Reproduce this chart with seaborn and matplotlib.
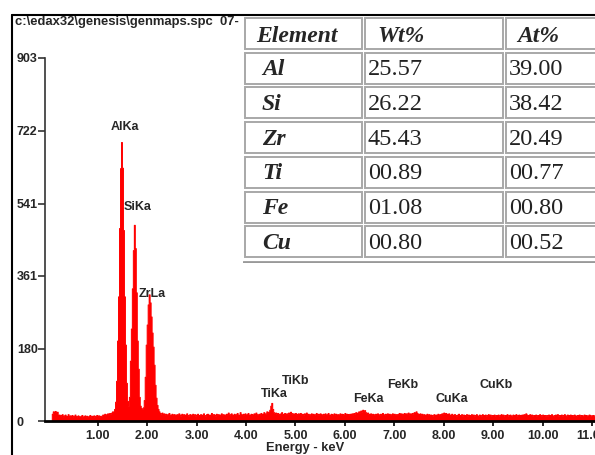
# EDS spectrum with quantification table

import numpy as np
import pandas as pd
import matplotlib.pyplot as plt
import seaborn as sns
from matplotlib.patches import Rectangle
from matplotlib.lines import Line2D

sns.set_style("white")
plt.rcParams["font.family"] = ["Liberation Sans", "DejaVu Sans"]

# Spectrum: counts per 0.02 keV channel, first channel at 0.08 keV
start_kev = 0.08
channel_kev = 0.02
count_rows = [
    [18, 24, 22, 25, 19, 23, 14, 16, 12, 15, 17, 11, 14, 16, 13, 12, 17, 10, 14, 12, 15, 11, 13, 16, 12],
    [11, 14, 12, 9, 13, 15, 10, 12, 14, 11, 13, 10, 12, 15, 11, 13, 12, 14, 10, 13, 15, 12, 14, 11, 13],
    [13, 16, 14, 18, 15, 17, 19, 16, 20, 18, 21, 24, 22, 30, 48, 100, 200, 310, 480, 629, 694, 630, 475, 310, 190],
    [95, 50, 38, 60, 150, 230, 330, 425, 488, 430, 320, 200, 130, 60, 38, 32, 30, 34, 52, 110, 190, 240, 290, 315, 295],
    [260, 220, 185, 140, 90, 58, 40, 30, 24, 20, 18, 21, 17, 19, 16, 18, 15, 17, 20, 16, 14, 18, 15, 17, 16],
    [14, 17, 15, 19, 16, 13, 18, 15, 17, 14, 16, 19, 15, 13, 17, 16, 14, 18, 15, 17, 13, 16, 18, 14, 15],
    [17, 14, 16, 19, 15, 13, 17, 18, 14, 16, 15, 20, 14, 17, 16, 13, 18, 15, 17, 14, 16, 19, 15, 17, 14],
    [16, 18, 15, 21, 14, 17, 19, 16, 15, 18, 14, 17, 20, 16, 15, 22, 17, 14, 18, 16, 19, 15, 17, 20, 16],
    [15, 18, 17, 14, 19, 16, 21, 17, 15, 18, 16, 20, 18, 17, 22, 19, 18, 24, 20, 23, 28, 38, 45, 30, 22],
    [19, 21, 17, 20, 18, 16, 19, 22, 18, 17, 20, 16, 19, 18, 21, 17, 23, 20, 18, 19, 17, 20, 16, 18, 19],
    [17, 20, 16, 18, 15, 19, 17, 21, 16, 18, 15, 17, 19, 16, 18, 14, 17, 20, 15, 18, 16, 19, 17, 15, 18],
    [16, 19, 15, 17, 20, 16, 14, 18, 17, 15, 19, 16, 18, 14, 17, 15, 19, 16, 18, 17, 15, 20, 16, 18, 17],
    [16, 18, 17, 19, 16, 20, 18, 22, 19, 21, 24, 20, 26, 23, 28, 25, 27, 22, 19, 21, 18, 17, 19, 16, 18],
    [17, 15, 18, 16, 19, 17, 15, 18, 16, 20, 17, 15, 18, 16, 19, 17, 18, 15, 17, 19, 16, 18, 15, 17, 16],
    [18, 20, 17, 19, 16, 18, 20, 17, 19, 18, 21, 16, 19, 17, 20, 18, 22, 19, 24, 20, 18, 17, 19, 16, 18],
    [15, 17, 14, 16, 18, 15, 17, 14, 16, 15, 13, 17, 15, 16, 14, 18, 15, 17, 16, 19, 18, 21, 17, 20, 18],
    [17, 19, 16, 15, 18, 14, 16, 17, 15, 13, 16, 18, 14, 15, 17, 13, 16, 14, 15, 17, 13, 16, 14, 15, 17],
    [14, 16, 13, 15, 17, 14, 12, 16, 15, 13, 17, 14, 15, 16, 13, 15, 17, 14, 16, 13, 15, 14, 16, 13, 15],
    [14, 16, 13, 15, 17, 14, 16, 13, 15, 14, 17, 13, 15, 16, 14, 13, 16, 15, 14, 17, 13, 15, 16, 14, 15],
    [16, 14, 17, 15, 19, 16, 14, 15, 17, 14, 16, 13, 15, 14, 16, 13, 15, 14, 17, 15, 13, 16, 14, 15, 13],
    [15, 13, 16, 14, 15, 17, 14, 13, 15, 16, 14, 17, 13, 15, 14, 16, 13, 15, 17, 14, 13, 16, 15, 14, 16],
    [14, 15, 13, 16, 14, 12, 15, 14, 16, 13, 15, 14, 13, 16, 14, 15, 13, 14, 16, 15, 13, 14, 15, 13, 14],
]

# Peak labels (keV, counts)
peak_names = ["AlKa", "SiKa", "ZrLa", "TiKa", "TiKb", "FeKa", "FeKb", "CuKa", "CuKb"]
peak_x = [1.55, 1.80, 2.10, 4.58, 5.01, 6.48, 7.16, 8.17, 9.05]
peak_y = [731, 532, 316, 67, 100, 55, 90, 55, 90]

# Axis ticks
y_ticks = [0, 180, 361, 541, 722, 903]
x_ticks = [1, 2, 3, 4, 5, 6, 7, 8, 9, 10, 11]

# Quantification table
elements = ["Al", "Si", "Zr", "Ti", "Fe", "Cu"]
wt_pct = ["25.57", "26.22", "45.43", "00.89", "01.08", "00.80"]
at_pct = ["39.00", "38.42", "20.49", "00.77", "00.80", "00.52"]

counts = np.concatenate(count_rows)
energy = start_kev + channel_kev * np.arange(len(counts))
edges = np.append(energy - channel_kev / 2, energy[-1] + channel_kev / 2)
df = pd.DataFrame({"energy": energy, "counts": counts})

W, H = 595, 455
fig = plt.figure(figsize=(W / 100, H / 100), dpi=100)
fig.patch.set_facecolor("white")

ax = fig.add_axes([45 / W, 34 / H, 550 / W, 363 / H])
sns.histplot(data=df, x="energy", weights="counts", bins=edges.tolist(),
             element="step", fill=True, color="#ff0000", alpha=1, linewidth=0.7, ax=ax)

ax.set_xlim(-0.067, 11.06)
ax.set_ylim(0, 903)
ax.set_ylabel("")
ax.set_xlabel("")
for s in ["top", "right"]:
    ax.spines[s].set_visible(False)
ax.spines["left"].set_color("#333333")
ax.spines["left"].set_linewidth(1.2)
ax.spines["bottom"].set_color("black")
ax.spines["bottom"].set_linewidth(2)

ax.set_yticks(y_ticks)
ax.set_yticklabels([str(v) for v in y_ticks], fontsize=9, fontweight="bold", ha="left")
ax.tick_params(axis="y", direction="out", length=5, width=1.2, color="#333333", pad=15.2, left=True)
ax.set_xticks(x_ticks)
ax.set_xticklabels(["%.2f" % v for v in x_ticks], fontsize=9, fontweight="bold")
ax.tick_params(axis="x", direction="out", length=3.6, width=1.2, color="black", pad=3, bottom=True)

for name, x, y in zip(peak_names, peak_x, peak_y):
    ax.text(x, y, name, fontsize=9, fontweight="bold", ha="center", va="center")

fig.text(305 / W, 1 - 448 / H, "Energy - keV", fontsize=9.3, fontweight="bold", ha="center", va="center")
fig.text(15 / W, 1 - 22 / H, "c:\\edax32\\genesis\\genmaps.spc  07-", fontsize=9.4,
         fontweight="bold", ha="left", va="center")

# table overlay, drawn in pixel coordinates
tab = fig.add_axes([243 / W, 1 - 263 / H, (W - 243) / W, (263 - 15) / H], zorder=5)
tab.set_xlim(243, W)
tab.set_ylim(263, 15)
tab.axis("off")
tab.add_patch(Rectangle((243, 15), W - 243, 248, facecolor="white", edgecolor="none"))

col_left = [245, 365, 506]
col_right = [362, 503, 610]
row_top0 = 18
row_pitch = 34.7
row_h = 31
header = ["Element", "Wt%", "At%"]
header_x = [256, 377, 517]
text_x = [262, 368, 509]
serif = ["Liberation Serif", "DejaVu Serif"]

rows = [header] + [[e, w, a] for e, w, a in zip(elements, wt_pct, at_pct)]
for i, row in enumerate(rows):
    top = row_top0 + i * row_pitch
    yc = top + row_h / 2 + 1.5
    for j in range(3):
        tab.add_patch(Rectangle((col_left[j], top), col_right[j] - col_left[j], row_h,
                                facecolor="white", edgecolor="#a8a8a8", linewidth=1.4))
        if i == 0:
            tab.text(header_x[j], yc + 1, row[j], family=serif, fontsize=17,
                     fontweight="bold", style="italic", ha="left", va="center")
        elif j == 0:
            tab.text(text_x[j], yc, row[j], family=serif, fontsize=17,
                     fontweight="bold", style="italic", ha="left", va="center")
        else:
            tab.text(text_x[j], yc, row[j], family=serif, fontsize=17.5,
                     ha="left", va="center", color="#222222")
tab.plot([243, W], [262, 262], color="#999999", lw=2)

# outer frame
fig.add_artist(Line2D([11.5 / W, 1], [1 - 15 / H, 1 - 15 / H], color="black", lw=1.5, zorder=10))
fig.add_artist(Line2D([11.5 / W, 11.5 / W], [0, 1 - 15 / H], color="black", lw=1.5, zorder=10))

plt.savefig("out.png", dpi=100)
